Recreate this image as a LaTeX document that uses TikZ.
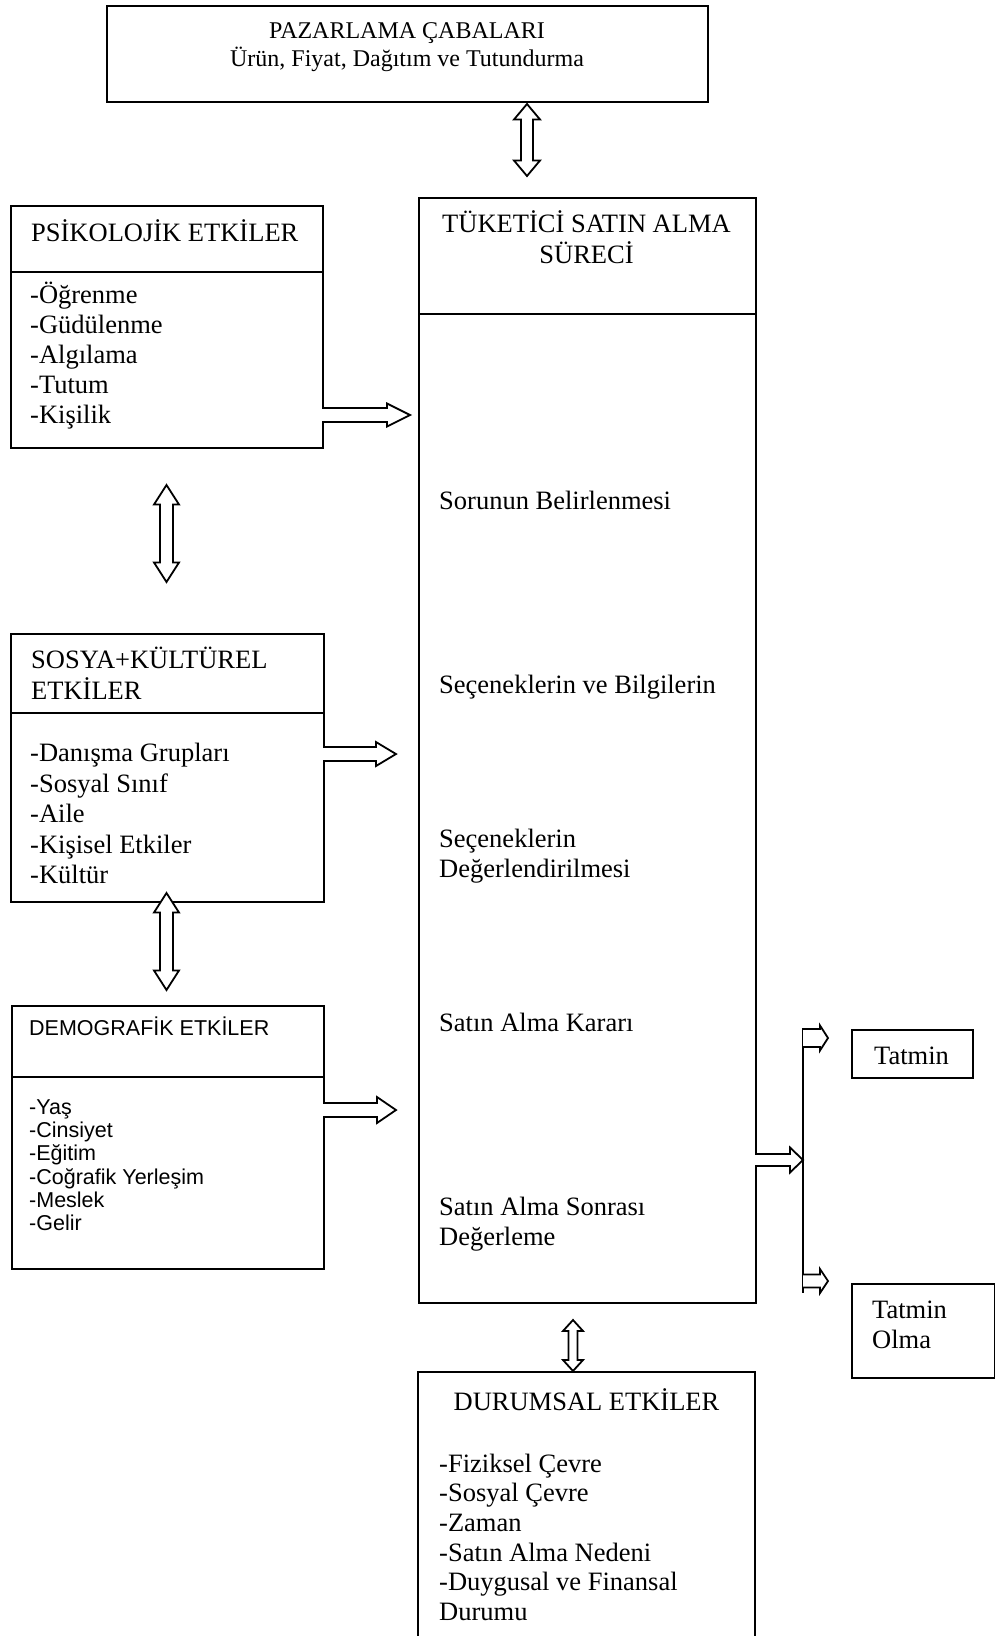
\documentclass[tikz,border=0pt]{standalone}
\usepackage{fontspec}
\setmainfont{Liberation Serif}
\newfontfamily\arialfont{Liberation Sans}
\tikzset{
  box/.style={draw, line width=1.8pt, inner sep=0pt, anchor=north west},
  txt/.style={inner sep=0pt, anchor=base west, font=\fontsize{26.5}{30}\selectfont},
  ctxt/.style={inner sep=0pt, anchor=base, font=\fontsize{26.5}{30}\selectfont},
  toptxt/.style={inner sep=0pt, anchor=base, font=\fontsize{24}{28}\selectfont},
  stxt/.style={inner sep=0pt, anchor=base west, font=\arialfont\fontsize{21.5}{23}\selectfont},
  blockarrow/.style={draw, line width=1.8pt, fill=white, line join=miter},
  sepline/.style={line width=1.8pt},
}
% right block arrow: x1 x2 y shafthalf headhalf headlength
\newcommand\rightblock[6]{%
  \draw[blockarrow] (#1,#3-#4) -- (#2-#6,#3-#4) -- (#2-#6,#3-#5) -- (#2,#3) -- (#2-#6,#3+#5) -- (#2-#6,#3+#4) -- (#1,#3+#4);}
% vertical double block arrow: x y1 y2 shafthalf headhalf headlength
\newcommand\vdouble[6]{%
  \draw[blockarrow] (#1,#2) -- (#1+#5,#2+#6) -- (#1+#4,#2+#6) -- (#1+#4,#3-#6) -- (#1+#5,#3-#6) -- (#1,#3) -- (#1-#5,#3-#6) -- (#1-#4,#3-#6) -- (#1-#4,#2+#6) -- (#1-#5,#2+#6) -- cycle;}
\begin{document}
\begin{tikzpicture}[x=1pt,y=-1pt]
\useasboundingbox (0,0) rectangle (995,1636);

% Top box
\node[box, minimum width=601pt, minimum height=96pt] (pazar) at (106,5) {};
\node[toptxt] (pazar1) at (407,38.5) {PAZARLAMA ÇABALARI};
\node[toptxt] (pazar2) at (407,66.5) {Ürün, Fiyat, Dağıtım ve Tutundurma};

% TSA box
\node[box, minimum width=337pt, minimum height=1105pt] (tsa) at (418,197) {};
\draw[sepline] (418,314) -- (755,314);
\node[ctxt] (tsa1) at (586.5,232.5) {TÜKETİCİ SATIN ALMA};
\node[ctxt] (tsa2) at (586.5,263.5) {SÜRECİ};
\node[txt] (s1) at (439,509.5) {Sorunun Belirlenmesi};
\node[txt] (s2) at (439,693.5) {Seçeneklerin ve Bilgilerin};
\node[txt] (s3a) at (439,847.5) {Seçeneklerin};
\node[txt] (s3b) at (439,877.5) {Değerlendirilmesi};
\node[txt] (s4) at (439,1031.5) {Satın Alma Kararı};
\node[txt] (s5a) at (439,1215.5) {Satın Alma Sonrası};
\node[txt] (s5b) at (439,1245.5) {Değerleme};

% Psikolojik
\node[box, minimum width=312pt, minimum height=242pt] (psi) at (10,205) {};
\draw[sepline] (10,272) -- (322,272);
\node[txt] (psit) at (31,241) {PSİKOLOJİK ETKİLER};
\foreach \t [count=\i from 0] in {-Öğrenme,-Güdülenme,-Algılama,-Tutum,-Kişilik}
  \node[txt] (psi\i) at (30,303+30.1*\i) {\t};

% Sosya-kulturel
\node[box, minimum width=313pt, minimum height=268pt] (sos) at (10,633) {};
\draw[sepline] (10,713) -- (323,713);
\node[txt] (sost1) at (31,668.5) {SOSYA+KÜLTÜREL};
\node[txt] (sost2) at (31,699.5) {ETKİLER};
\foreach \t [count=\i from 0] in {-Danışma Grupları,-Sosyal Sınıf,-Aile,-Kişisel Etkiler,-Kültür}
  \node[txt] (sos\i) at (30,761.5+30.5*\i) {\t};

% Demografik
\node[box, minimum width=312pt, minimum height=263pt] (dem) at (11,1005) {};
\draw[sepline] (11,1077) -- (323,1077);
\node[stxt] (demt) at (29,1035) {DEMOGRAFİK ETKİLER};
\foreach \t [count=\i from 0] in {-Yaş,-Cinsiyet,-Eğitim,-Coğrafik Yerleşim,-Meslek,-Gelir}
  \node[stxt] (dem\i) at (29,1114.5+23.2*\i) {\t};

% Durumsal
\draw[line width=1.8pt] (418,1650) -- (418,1372) -- (755,1372) -- (755,1650);
\node[ctxt] (durt) at (586.5,1410.5) {DURUMSAL ETKİLER};
\foreach \t [count=\i from 0] in {-Fiziksel Çevre,-Sosyal Çevre,-Zaman,-Satın Alma Nedeni,-Duygusal ve Finansal,Durumu}
  \node[txt] (dur\i) at (439,1472+29.7*\i) {\t};

% Tatmin boxes
\node[box, minimum width=121pt, minimum height=48pt] (tat) at (851,1029) {};
\node[ctxt] (tatt) at (911.5,1064) {Tatmin};
\node[box, minimum width=143pt, minimum height=94pt] (tato) at (851,1283) {};
\node[txt] (tato1) at (872,1318) {Tatmin};
\node[txt] (tato2) at (872,1348) {Olma};

% Arrows
\vdouble{527}{104}{176}{6}{13}{15.5}
\vdouble{166.5}{485}{582}{6.5}{12.5}{19.5}
\vdouble{166.5}{893}{990}{6.5}{12.5}{19.5}
\vdouble{573}{1320}{1371}{4.5}{10}{11}

\rightblock{322}{410}{415}{7}{11.5}{23}
\rightblock{323}{396}{754}{7}{12}{20}
\rightblock{323}{396}{1110}{7}{13}{19}
\rightblock{755}{803}{1160}{6}{12.5}{13}

\draw[line width=1.8pt] (803,1028) -- (803,1293);
\rightblock{803}{828}{1038}{9}{12.5}{8}
\rightblock{803}{828}{1281}{6.5}{12}{8}
\end{tikzpicture}
\end{document}
